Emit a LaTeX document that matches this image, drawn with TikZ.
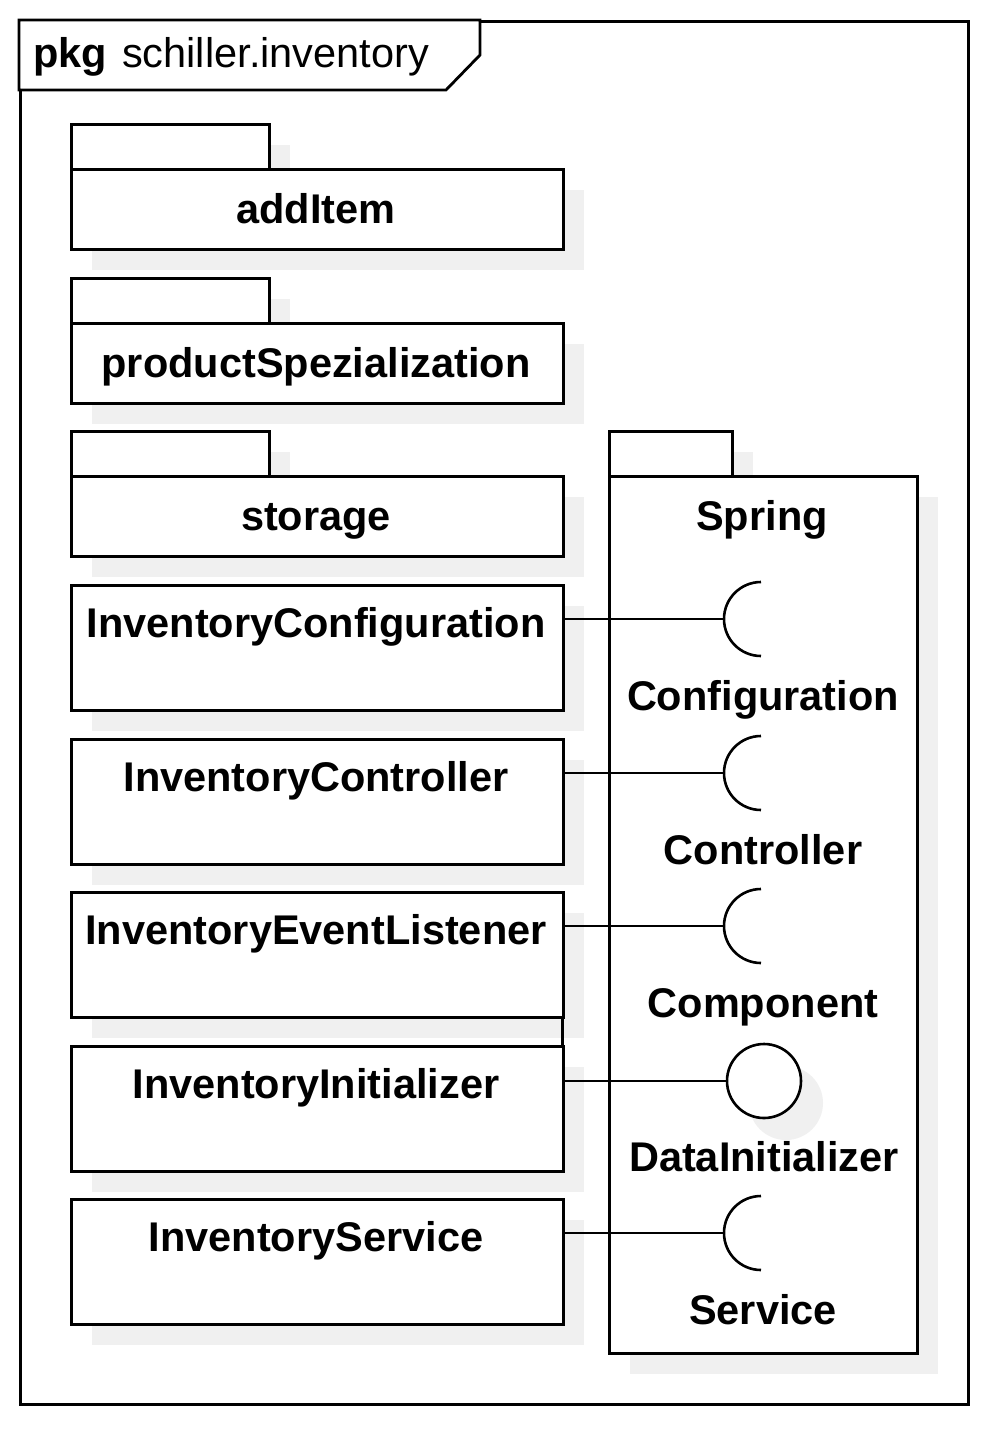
\documentclass[tikz,border=0pt]{standalone}
\usepackage{fontspec}
\setmainfont{Liberation Sans}
\begin{document}
\begin{tikzpicture}[x=1pt,y=-1pt,
  lw/.style={line width=2.8pt},
  shd/.style={fill=black!6, draw=none},
  box/.style={draw, lw, fill=white, inner sep=0pt, anchor=north west},
  lbl/.style={font=\fontsize{41.5}{48}\selectfont\bfseries, inner sep=0pt},
  reg/.style={font=\fontsize{41.5}{48}\selectfont, inner sep=0pt},
  conn/.style={line width=2.6pt}
]
\useasboundingbox (0,0) rectangle (994,1430);
% outer frame
\node[box, minimum width=948pt, minimum height=1383pt] (frame) at (19,20) {};
\draw[lw, fill=white] (19,20) -- (480,20) -- (480,55) -- (446,90) -- (19,90) -- cycle;
\node[lbl, anchor=base west] (pkgkw) at (33,67) {pkg};
\node[reg, anchor=base west] (pkgname) at (122,67) {schiller.inventory};

% packages (left)
\foreach \n/\y/\t in {add/123/addItem, prod/277/productSpezialization, stor/430/storage}{
  \fill[shd] (92,\y+22) rectangle (290,\y+67);
  \fill[shd] (92,\y+67) rectangle (584,\y+147);
  \node[box, minimum width=198pt, minimum height=45pt] (\n tab) at (70,\y) {};
  \node[box, minimum width=492pt, minimum height=80pt] (\n) at (70,\y+45) {};
  \node[lbl, anchor=base] (\n lbl) at (316,\y+100) {\t};
}

% Spring package
\fill[shd] (630,452) rectangle (753,497);
\fill[shd] (630,497) rectangle (938,1374);
\node[box, minimum width=123pt, minimum height=45pt] (springtab) at (608,430) {};
\node[box, minimum width=308pt, minimum height=877pt] (spring) at (608,475) {};
\node[lbl, anchor=base] (springlbl) at (762,530) {Spring};

% classes
\foreach \n/\y/\t in {cfg/584/InventoryConfiguration, ctl/738/InventoryController, evl/891/InventoryEventListener, ini/1045/InventoryInitializer, svc/1198/InventoryService}{
  \fill[shd] (92,\y+22) rectangle (584,\y+147);
  \node[box, minimum width=492pt, minimum height=125pt] (\n) at (70,\y) {};
  \node[lbl, anchor=base] (\n lbl) at (316,\y+53) {\t};
}
\draw[lw] (evl.south east) ++(-2pt,0) coordinate (evlx) -- (evlx |- ini.north);

% sockets
\foreach \n/\y/\t in {cfg/619/Configuration, ctl/773/Controller, evl/926/Component, svc/1233/Service}{
  \coordinate (\n s) at (724,\y);
  \draw[conn] (\n.east |- \n s) -- (\n s);
  \draw[conn] ([xshift=37pt,yshift=37pt]\n s) arc[start angle=90, end angle=270, radius=37pt];
  \node[lbl, anchor=base] (\n ilbl) at (763,\y+91) {\t};
}

% lollipop
\fill[shd] (786,1103) circle (37);
\node[circle, draw, conn, fill=white, minimum size=74pt, inner sep=0pt] (di) at (764,1081) {};
\draw[conn] (ini.east |- di.west) -- (di.west);
\node[lbl, anchor=base] (dilbl) at (764,1171) {DataInitializer};
\end{tikzpicture}
\end{document}
